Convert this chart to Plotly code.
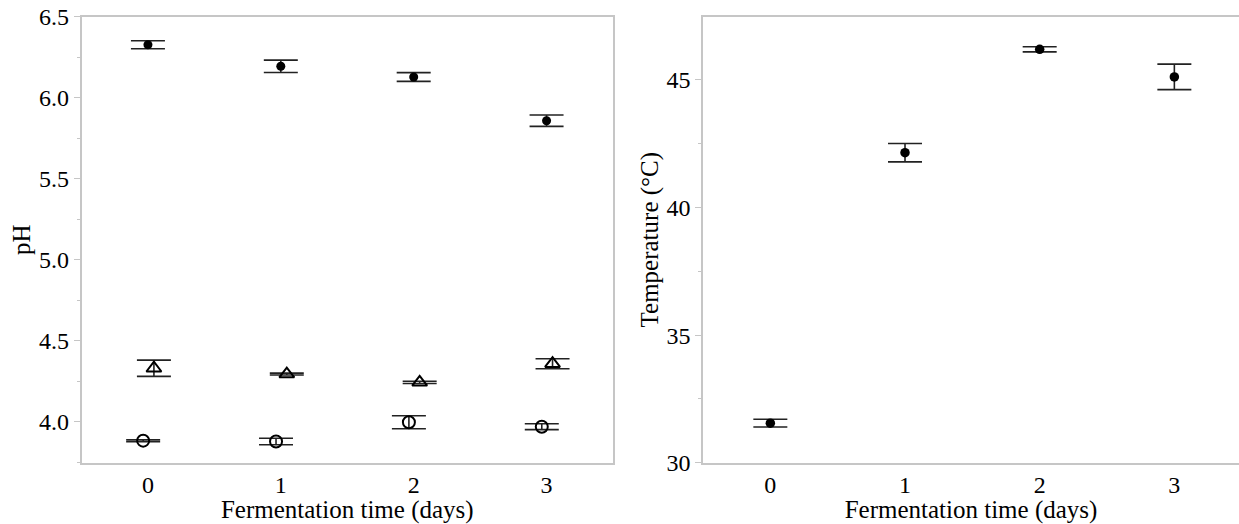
import plotly.graph_objects as go

days = [0, 1, 2, 3]

# Left panel: pH (three series)
ph_filled = [6.327, 6.194, 6.128, 5.858]
ph_filled_err = [0.025, 0.038, 0.027, 0.035]
ph_triangle = [4.330, 4.294, 4.243, 4.358]
ph_triangle_err = [0.050, 0.006, 0.007, 0.031]
ph_open = [3.883, 3.878, 3.997, 3.969]
ph_open_err = [0.006, 0.020, 0.040, 0.018]

# Right panel: temperature
temp = [31.55, 42.15, 46.20, 45.12]
temp_err = [0.15, 0.36, 0.10, 0.50]

x_ticks = [0, 1, 2, 3]
x_title = "Fermentation time (days)"
ph_title = "pH"
temp_title = "Temperature (°C)"

FONT = "Liberation Serif, Times New Roman, serif"
FRAME = "#c6c6c6"
ERR = "#222222"

fig = go.Figure()

def err(vals):
    return dict(type="data", array=vals, visible=True, color=ERR, thickness=1.6, width=17)

fig.add_trace(go.Scatter(
    x=days, y=ph_filled, mode="markers", error_y=err(ph_filled_err),
    marker=dict(symbol="circle", size=9, color="black"),
    xaxis="x", yaxis="y", showlegend=False))
fig.add_trace(go.Scatter(
    x=[d + 0.045 for d in days], y=ph_triangle, mode="markers", error_y=err(ph_triangle_err),
    marker=dict(symbol="triangle-up-open", size=13, color="black", line=dict(width=2, color="black")),
    xaxis="x", yaxis="y", showlegend=False))
fig.add_trace(go.Scatter(
    x=[d - 0.036 for d in days], y=ph_open, mode="markers", error_y=err(ph_open_err),
    marker=dict(symbol="circle-open", size=12, color="black", line=dict(width=2, color="black")),
    xaxis="x", yaxis="y", showlegend=False))

fig.add_trace(go.Scatter(
    x=days, y=temp, mode="markers", error_y=err(temp_err),
    marker=dict(symbol="circle", size=9.5, color="black"),
    xaxis="x2", yaxis="y2", showlegend=False))

W, H = 1239, 524
y_dom = [(H - 462.7) / H, (H - 16.7) / H]

common_x = dict(
    range=[-0.5, 3.5], tickvals=x_ticks, ticks="", showgrid=False, zeroline=False,
    showline=True, linecolor=FRAME, linewidth=1.6, mirror=True, automargin=False,
    tickfont=dict(family=FONT, size=24, color="black"),
    title=dict(text=x_title, font=dict(family=FONT, size=25, color="black"), standoff=4),
)

fig.update_layout(
    width=W, height=H,
    margin=dict(l=0, r=0, t=0, b=0, autoexpand=False),
    paper_bgcolor="white", plot_bgcolor="white",
    font=dict(family=FONT, color="black"),
    xaxis=dict(common_x, domain=[81.5 / W, 613 / W], anchor="y"),
    yaxis=dict(
        domain=y_dom, anchor="x", range=[3.747, 6.5], dtick=0.5, tick0=4.0, automargin=False,
        tickformat=".1f", ticks="outside", ticklen=6, tickwidth=1.2, tickcolor=FRAME,
        minor=dict(dtick=0.25, tick0=4.0, ticks="outside", ticklen=3, tickcolor=FRAME, tickwidth=1.2),
        showgrid=False, zeroline=False, showline=True, linecolor=FRAME, linewidth=1.6, mirror=True,
        tickfont=dict(family=FONT, size=24, color="black"),
        title=dict(text=ph_title, font=dict(family=FONT, size=25, color="black"), standoff=1),
    ),
    xaxis2=dict(common_x, domain=[703 / W, 1.0], anchor="y2", range=[-0.5, 3.48]),
    yaxis2=dict(
        domain=y_dom, anchor="x2", range=[30, 47.48], dtick=5, tick0=30, automargin=False,
        ticks="outside", ticklen=6, tickwidth=1.2, tickcolor=FRAME,
        minor=dict(dtick=2.5, tick0=30, ticks="outside", ticklen=3, tickcolor=FRAME, tickwidth=1.2),
        showgrid=False, zeroline=False, showline=True, linecolor=FRAME, linewidth=1.6, mirror=False,
        tickfont=dict(family=FONT, size=24, color="black"),
        title=dict(text=temp_title, font=dict(family=FONT, size=25, color="black"), standoff=1),
    ),
)

fig.write_html(
    "out.html",
    config={"displayModeBar": False},
    post_script="document.body.style.margin='0';document.body.style.overflow='hidden';",
)
